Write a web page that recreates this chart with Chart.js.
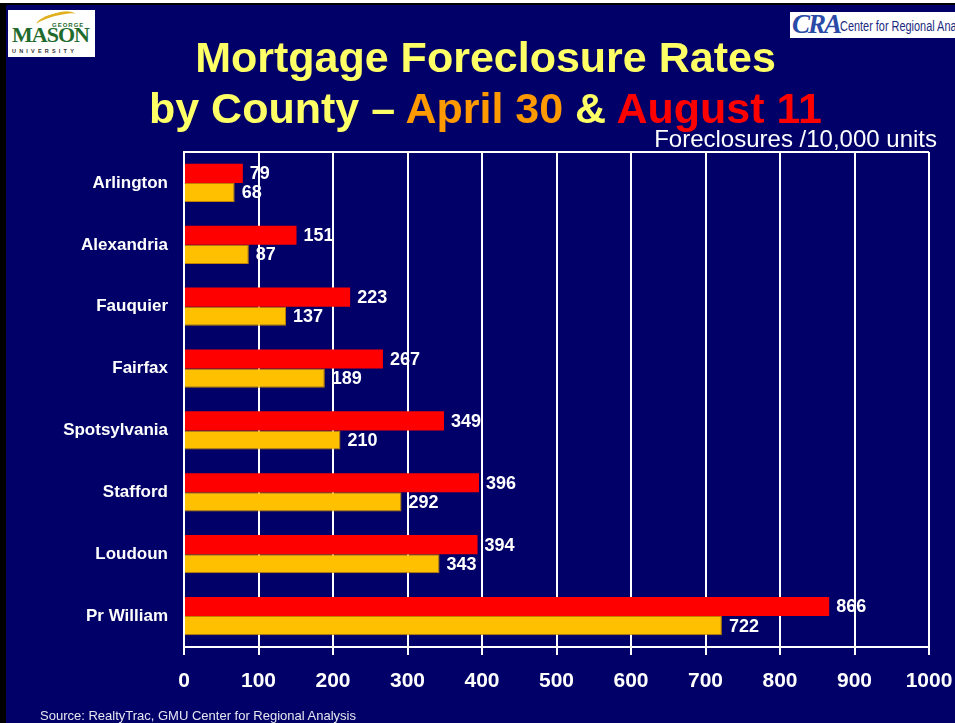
<!DOCTYPE html>
<html>
<head>
<meta charset="utf-8">
<script src="https://cdn.jsdelivr.net/npm/chart.js@4/dist/chart.umd.min.js"></script>
<style>
  html, body { margin: 0; padding: 0; background: #ffffff; }
  #slide { position: absolute; left: 0; top: 0; width: 955px; height: 723px; overflow: hidden; background: #000068; }
  #frameTop { position: absolute; left: 0; top: 0; width: 955px; height: 3px; background: #ffffff; }
  #frameTop2 { position: absolute; left: 0; top: 3px; width: 955px; height: 2px; background: #000000; }
  #frameLeft { position: absolute; left: 0; top: 3px; width: 6px; height: 720px; background: #000000; }
  #chartWrap { position: absolute; left: 0; top: 0; width: 955px; height: 723px; }
  .t { position: absolute; left: 8px; width: 955px; text-align: center; font-family: "Liberation Sans", Arial, sans-serif; font-weight: bold; font-size: 43px; color: #FFFF66; white-space: nowrap; }
  #unit { position: absolute; right: 18px; top: 125px; font-family: "Liberation Sans", Arial, sans-serif; font-size: 24px; color: #ffffff; white-space: nowrap; }
  #source { position: absolute; left: 40px; top: 708px; font-family: "Liberation Sans", Arial, sans-serif; font-size: 13px; color: #e6e6f0; white-space: nowrap; }
  #gmu { position: absolute; left: 8px; top: 10px; width: 87px; height: 47px; background: #fff; overflow: hidden; font-family: "Liberation Serif", serif; color: #1f6b2e; }
  #gmu .m { position: absolute; left: 4px; top: 14px; font-size: 22px; font-weight: bold; letter-spacing: -1px; line-height: 22px; }
  #gmu .g { position: absolute; left: 44px; top: 12px; font-size: 6px; font-family: "Liberation Sans", sans-serif; font-weight: bold; letter-spacing: 1px; line-height: 6px; }
  #gmu .u { position: absolute; left: 4px; top: 38px; font-size: 5.5px; font-family: "Liberation Sans", sans-serif; font-weight: bold; letter-spacing: 3.2px; color: #333; line-height: 6px; }
  #gmu .sw { position: absolute; left: 28px; top: 3px; width: 40px; height: 10px; border-top: 3px solid #e0b020; border-radius: 50% 50% 0 0; transform: rotate(-15deg); }
  #cra { position: absolute; left: 790px; top: 12px; width: 170px; height: 26px; background: #fff; overflow: hidden; white-space: nowrap; }
  #cra .c { position: absolute; left: 2px; top: -3px; font-family: "Liberation Serif", serif; font-style: italic; font-weight: bold; font-size: 27px; color: #2a4aa8; letter-spacing: -2px; }
  #cra .n { position: absolute; left: 50px; top: 6px; font-family: "Liberation Sans Narrow", "Liberation Sans", sans-serif; font-size: 14px; color: #1a2a80; transform: scaleX(0.78); transform-origin: left top; }
</style>
</head>
<body>
<div id="slide">
  <div id="chartWrap"><canvas id="c" width="955" height="723"></canvas></div>
  <div class="t" style="top:33px;">Mortgage Foreclosure Rates</div>
  <div class="t" style="top:84px;">by County – <span style="color:#FF9900;">April 30</span> &amp; <span style="color:#FF0000;">August 11</span></div>
  <div id="unit">Foreclosures /10,000 units</div>
  <div id="source">Source: RealtyTrac, GMU Center for Regional Analysis</div>
  <div id="gmu"><div class="sw"></div><div class="g">GEORGE</div><div class="m">MASON</div><div class="u">UNIVERSITY</div></div>
  <div id="cra"><div class="c">CRA</div><div class="n">Center for Regional Analysis</div></div>
  <div id="frameTop"></div><div id="frameTop2"></div><div id="frameLeft"></div>
</div>
<script>
const counties = ["Arlington", "Alexandria", "Fauquier", "Fairfax", "Spotsylvania", "Stafford", "Loudoun", "Pr William"];
const august11 = [79, 151, 223, 267, 349, 396, 394, 866];
const april30 = [68, 87, 137, 189, 210, 292, 343, 722];
const xTicks = [0, 100, 200, 300, 400, 500, 600, 700, 800, 900, 1000];

const valueLabels = {
  id: 'valueLabels',
  afterDatasetsDraw(chart) {
    const ctx = chart.ctx;
    ctx.save();
    ctx.font = 'bold 18px "Liberation Sans", Arial, sans-serif';
    ctx.fillStyle = '#ffffff';
    ctx.textAlign = 'left';
    ctx.textBaseline = 'middle';
    chart.data.datasets.forEach((ds, di) => {
      chart.getDatasetMeta(di).data.forEach((el, i) => {
        ctx.fillText(String(ds.data[i]), el.x + 7, el.y + 1);
      });
    });
    ctx.restore();
  }
};
const topBorder = {
  id: 'topBorder',
  beforeDatasetsDraw(chart) {
    const a = chart.chartArea, ctx = chart.ctx;
    ctx.save();
    ctx.strokeStyle = '#ffffff';
    ctx.lineWidth = 2;
    ctx.beginPath();
    ctx.moveTo(a.left, a.top);
    ctx.lineTo(a.right, a.top);
    ctx.stroke();
    ctx.restore();
  }
};

new Chart(document.getElementById('c'), {
  type: 'bar',
  data: {
    labels: counties,
    datasets: [
      { label: 'August 11', data: august11, backgroundColor: '#FF0000', borderWidth: 0, categoryPercentage: 0.62, barPercentage: 1.0 },
      { label: 'April 30', data: april30, backgroundColor: '#FFC000', borderColor: '#c08000', borderWidth: 1, categoryPercentage: 0.62, barPercentage: 1.0 }
    ]
  },
  options: {
    indexAxis: 'y',
    responsive: false,
    animation: false,
    layout: { padding: { left: 0, right: 26, top: 152, bottom: 20 } },
    plugins: { legend: { display: false }, tooltip: { enabled: false }, title: { display: false } },
    scales: {
      x: {
        type: 'linear',
        min: 0, max: 1000,
        afterBuildTicks(s) { s.ticks = xTicks.map(v => ({ value: v })); },
        afterFit(s) { s.height = 56; },
        afterUpdate(s) { s.paddingRight = 0; },
        grid: { color: '#ffffff', lineWidth: 2, tickLength: 8, drawOnChartArea: true, tickColor: '#ffffff' },
        border: { color: '#ffffff', width: 2 },
        ticks: { color: '#ffffff', padding: 14, maxRotation: 0, autoSkip: false, callback: (v) => String(v), font: { family: '"Liberation Sans", Arial, sans-serif', weight: 'bold', size: 21 } }
      },
      y: {
        afterFit(s) { s.width = 184; },
        grid: { display: false },
        border: { color: '#ffffff', width: 2 },
        ticks: { color: '#ffffff', padding: 8, font: { family: '"Liberation Sans", Arial, sans-serif', weight: 'bold', size: 17 } }
      }
    }
  },
  plugins: [valueLabels, topBorder]
});
</script>
</body>
</html>
